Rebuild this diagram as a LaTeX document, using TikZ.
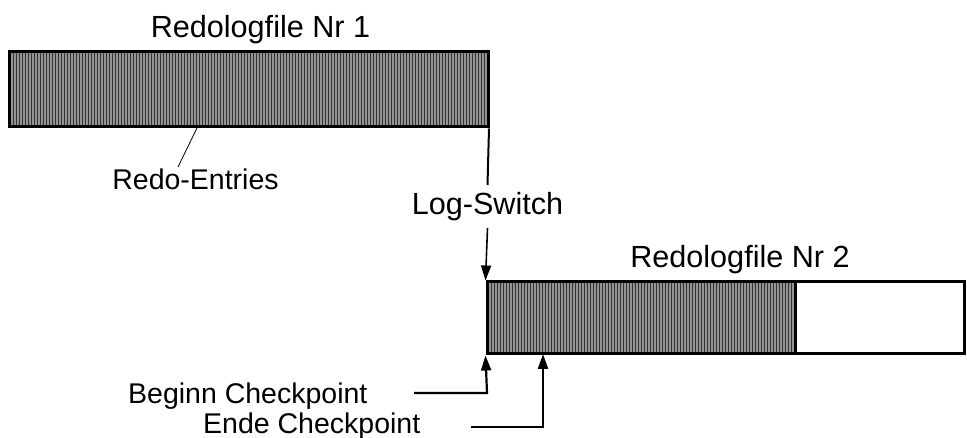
\documentclass[tikz,border=0pt]{standalone}
\usepackage{fontspec}
\setmainfont{Liberation Sans}
\usetikzlibrary{arrows.meta}
\begin{document}
\begin{tikzpicture}[x=1pt,y=-1pt,
  lbl/.style={inner sep=0pt,anchor=base,font=\fontsize{28.5}{30}\selectfont},
  ttl/.style={inner sep=0pt,anchor=base,font=\fontsize{30.6}{33}\selectfont},
  filebox/.style={draw=black,line width=3pt,inner sep=0pt,rectangle},
  conn/.style={line width=2.2pt,-{Triangle[length=15pt,width=10pt]}},
  plain/.style={line width=2pt}]
\useasboundingbox (0,0) rectangle (967,438);
% hatching
\fill[black!42] (9,52) rectangle (488,127);
\foreach \x in {10.5,13.5,...,487} \draw[black!80,line width=1.2pt] (\x,52) -- (\x,127);
\fill[black!42] (487,282) rectangle (795,354);
\foreach \x in {488.5,491.5,...,794} \draw[black!80,line width=1.2pt] (\x,282) -- (\x,354);
% boxes
\node[filebox,minimum width=479pt,minimum height=75pt] (box1) at (248.5,89.5) {};
\node[filebox,minimum width=308pt,minimum height=72pt] (box2a) at (641,318) {};
\node[filebox,minimum width=169pt,minimum height=72pt] (box2b) at (879.5,318) {};
% labels
\node[ttl] (t1) at (260.5,38) {Redologfile Nr 1};
\node[ttl] (t2) at (740,268) {Redologfile Nr 2};
\node[lbl] (redo) at (195.5,190) {Redo-Entries};
\node[ttl] (ls) at (487.5,215) {Log-Switch};
\node[lbl,anchor=base west] (bc) at (128,403) {Beginn Checkpoint};
\node[lbl,anchor=base west] (ec) at (203,433) {Ende Checkpoint};
% connectors
\coordinate (re1) at (197,128);
\coordinate (re2) at (178,167);
\draw[line width=0.8pt] (re1) -- (re2);
\coordinate (lsa) at (487.5,185);
\coordinate (lsb) at (487.5,228);
\draw[plain] (box1.south east) ++(-0.5,0) -- (lsa);
\draw[line width=1.6pt,-{Triangle[length=15pt,width=10pt]}] (lsb) -- (box2a.north west);
\coordinate (b1) at (414,393);
\coordinate (b2) at (487,393);
\draw[conn] (b1) -- (b2) -- (box2a.south west);
\coordinate (e1) at (471,427);
\coordinate (e2) at (543,427);
\coordinate (e3) at (543,354);
\draw[conn] (e1) -- (e2) -- (e3);
\end{tikzpicture}
\end{document}
